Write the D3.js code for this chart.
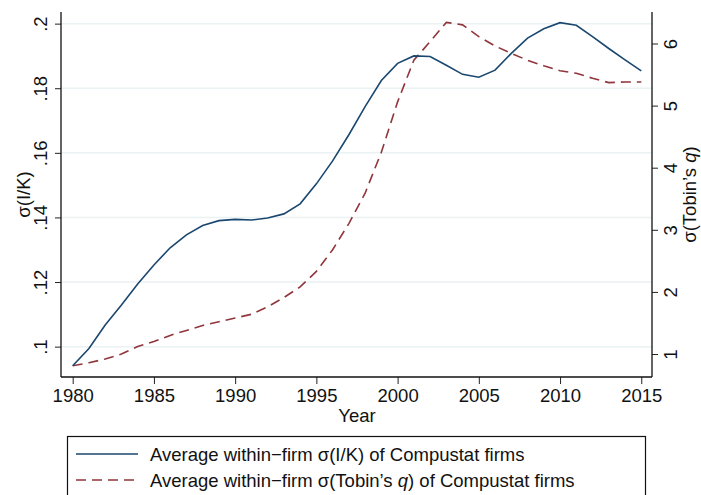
<!DOCTYPE html>
<html>
<head>
<meta charset="utf-8">
<script src="https://cdn.jsdelivr.net/npm/d3@7"></script>
<style>
  body { margin: 0; background: #fff; }
  svg { display: block; font-family: "Liberation Sans", Arial, sans-serif; }
</style>
</head>
<body>
<svg id="chart" width="701" height="495"></svg>
<script>
"use strict";

const years = d3.range(1980, 2016);

// average within-firm sigma(I/K), left axis
const sigmaIK = [
	0.0941, 0.0994, 0.1067, 0.1129, 0.1194, 0.1253, 0.1306, 0.1346, 0.1375, 0.1390,
	0.1394, 0.1392, 0.1398, 0.1411, 0.1442, 0.1504, 0.1575, 0.1656, 0.1743, 0.1824,
	0.1877, 0.1900, 0.1898, 0.1871, 0.1843, 0.1834, 0.1856, 0.1908, 0.1955, 0.1984,
	0.2003, 0.1995, 0.1960, 0.1923, 0.1888, 0.1854
];

// average within-firm sigma(Tobin's q), right axis
const sigmaQ = [
	0.81, 0.86, 0.92, 1.00, 1.12, 1.20, 1.30, 1.38, 1.46, 1.52,
	1.58, 1.64, 1.76, 1.91, 2.08, 2.33, 2.68, 3.10, 3.59, 4.25,
	5.06, 5.73, 6.03, 6.34, 6.30, 6.11, 5.96, 5.84, 5.73, 5.64,
	5.56, 5.52, 5.44, 5.37, 5.38, 5.38
];

const xTicks = [1980, 1985, 1990, 1995, 2000, 2005, 2010, 2015];
const leftTicks = [0.1, 0.12, 0.14, 0.16, 0.18, 0.2];
const rightTicks = [1, 2, 3, 4, 5, 6];

const legendLabels = [
	{parts: [["Average within\u2212firm \u03c3(I/K) of Compustat firms", "normal"]]},
	{parts: [["Average within\u2212firm \u03c3(Tobin\u2019s ", "normal"], ["q", "italic"], [") of Compustat firms", "normal"]]}
];

const blue = "#1a476f";
const red = "#90353b";
const FS = 18.5;

let svg = d3.select("#chart");

const plot = {left: 61, right: 652, top: 12, bottom: 377};

let x = d3.scaleLinear().domain([1979.28, 2015.66]).range([plot.left, plot.right]);
let yL = d3.scaleLinear().domain([0.0906, 0.2036]).range([plot.bottom, plot.top]);
let yR = d3.scaleLinear().domain([0.63, 6.507]).range([plot.bottom, plot.top]);

// grid
svg.append("g")
	.selectAll("line")
	.data(leftTicks)
	.join("line")
	.attr("x1", plot.left)
	.attr("x2", plot.right)
	.attr("y1", d => yL(d))
	.attr("y2", d => yL(d))
	.attr("stroke", "#eaf2f3")
	.attr("stroke-width", 1.5);

const fmtL = d => d3.format(".2~f")(d).replace(/^0/, "");

function styleAxis(g) {
	g.select(".domain").remove();
	g.selectAll(".tick line").attr("stroke", "#222").attr("stroke-width", 1);
	g.selectAll(".tick text")
		.attr("fill", "#111")
		.attr("font-size", FS)
		.attr("font-family", "Liberation Sans, Arial, sans-serif");
}

// x axis
let gx = svg.append("g")
	.attr("transform", `translate(0,${plot.bottom})`)
	.call(d3.axisBottom(x).tickValues(xTicks).tickFormat(d3.format("d")).tickSize(7).tickPadding(5));
styleAxis(gx);
gx.selectAll(".tick text").attr("dy", null).attr("y", 24.7);

// left axis
let gl = svg.append("g")
	.attr("transform", `translate(${plot.left},0)`)
	.call(d3.axisLeft(yL).tickValues(leftTicks).tickFormat(fmtL).tickSize(6));
styleAxis(gl);
gl.selectAll(".tick text")
	.attr("transform", "rotate(-90)")
	.attr("x", 0)
	.attr("dy", null)
	.attr("y", -14)
	.attr("text-anchor", "middle");

// right axis
let gr = svg.append("g")
	.attr("transform", `translate(${plot.right},0)`)
	.call(d3.axisRight(yR).tickValues(rightTicks).tickFormat(d3.format("d")).tickSize(6));
styleAxis(gr);
gr.selectAll(".tick text")
	.attr("transform", "rotate(-90)")
	.attr("x", 0)
	.attr("dy", null)
	.attr("y", 25)
	.attr("text-anchor", "middle");

// axis lines
let axisLines = [
	[plot.left, plot.top, plot.left, plot.bottom],
	[plot.left, plot.bottom, plot.right, plot.bottom],
	[plot.right, plot.top, plot.right, plot.bottom]
];
svg.append("g")
	.selectAll("line")
	.data(axisLines)
	.join("line")
	.attr("x1", d => d[0]).attr("y1", d => d[1])
	.attr("x2", d => d[2]).attr("y2", d => d[3])
	.attr("stroke", "#111")
	.attr("stroke-width", 1.3);

// series
let lineIK = d3.line().x((d, i) => x(years[i])).y(d => yL(d));
let lineQ = d3.line().x((d, i) => x(years[i])).y(d => yR(d));

svg.append("path")
	.datum(sigmaQ)
	.attr("d", lineQ)
	.attr("fill", "none")
	.attr("stroke", red)
	.attr("stroke-width", 1.6)
	.attr("stroke-dasharray", "10,6");

svg.append("path")
	.datum(sigmaIK)
	.attr("d", lineIK)
	.attr("fill", "none")
	.attr("stroke", blue)
	.attr("stroke-width", 1.6);

// axis titles
svg.append("text")
	.attr("x", (plot.left + plot.right) / 2 + 0.5)
	.attr("y", 422)
	.attr("text-anchor", "middle")
	.attr("font-size", FS)
	.attr("fill", "#111")
	.text("Year");

svg.append("text")
	.attr("transform", `translate(30,${(plot.top + plot.bottom) / 2}) rotate(-90)`)
	.attr("text-anchor", "middle")
	.attr("font-size", FS)
	.attr("fill", "#111")
	.text("\u03c3(I/K)");

let rt = svg.append("text")
	.attr("transform", `translate(696,${(plot.top + plot.bottom) / 2}) rotate(-90)`)
	.attr("text-anchor", "middle")
	.attr("font-size", FS)
	.attr("fill", "#111");
rt.append("tspan").text("\u03c3(Tobin\u2019s ");
rt.append("tspan").attr("font-style", "italic").text("q");
rt.append("tspan").text(")");

// legend
let lg = svg.append("g");
lg.append("rect")
	.attr("x", 67.5)
	.attr("y", 436.5)
	.attr("width", 578)
	.attr("height", 80)
	.attr("fill", "#fff")
	.attr("stroke", "#111")
	.attr("stroke-width", 1.2);

let rows = lg.selectAll("g.row")
	.data(legendLabels)
	.join("g")
	.attr("class", "row")
	.attr("transform", (d, i) => `translate(0,${454 + i * 26})`);

rows.append("line")
	.attr("x1", 76)
	.attr("x2", 138)
	.attr("stroke", (d, i) => i === 0 ? blue : red)
	.attr("stroke-width", 1.6)
	.attr("stroke-dasharray", (d, i) => i === 0 ? null : "10,6");

rows.append("text")
	.attr("x", 150)
	.attr("y", 7)
	.attr("font-size", FS)
	.attr("fill", "#111")
	.each(function(d) {
		let t = d3.select(this);
		d.parts.forEach(p => t.append("tspan").attr("font-style", p[1]).text(p[0]));
	});
</script>
</body>
</html>
